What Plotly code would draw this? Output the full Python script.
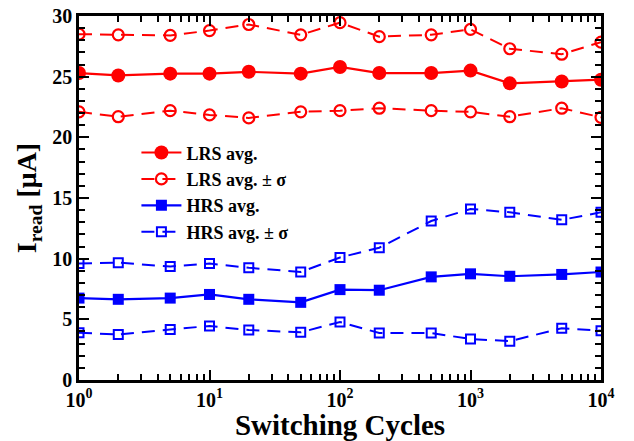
import plotly.graph_objects as go

cycles = [1, 2, 5, 10, 20, 50, 100, 200, 500, 1000, 2000, 5000, 10000]
lrs_avg = [25.3, 25.1, 25.25, 25.25, 25.4, 25.25, 25.8, 25.3, 25.3, 25.5, 24.45, 24.6, 24.75]
lrs_hi = [28.5, 28.45, 28.4, 28.8, 29.3, 28.45, 29.45, 28.3, 28.45, 28.9, 27.3, 26.85, 27.85]
lrs_lo = [22.1, 21.7, 22.2, 21.85, 21.6, 22.1, 22.2, 22.4, 22.2, 22.1, 21.7, 22.4, 21.65]
hrs_avg = [6.75, 6.65, 6.75, 7.05, 6.65, 6.4, 7.45, 7.4, 8.5, 8.75, 8.55, 8.7, 8.9]
hrs_hi = [9.6, 9.67, 9.35, 9.6, 9.25, 8.9, 10.1, 10.9, 13.1, 14.1, 13.82, 13.2, 13.82]
hrs_lo = [3.9, 3.75, 4.17, 4.45, 4.12, 3.93, 4.78, 3.87, 3.87, 3.38, 3.2, 4.26, 4.06]

x_tickvals = [1, 10, 100, 1000, 10000]
x_ticktext = ["10<sup>0</sup>", "10<sup>1</sup>", "10<sup>2</sup>", "10<sup>3</sup>", "10<sup>4</sup>"]
x_minor = [m * d for d in [1, 10, 100, 1000] for m in range(2, 10)]

RED = "#ff0000"
BLUE = "#0000ff"
DASH = "13px,8px"

fig = go.Figure()
fig.add_trace(go.Scatter(x=cycles, y=lrs_avg, mode="lines+markers", name="LRS avg.",
                         line=dict(color=RED, width=2.2),
                         marker=dict(symbol="circle", size=14, color=RED)))
fig.add_trace(go.Scatter(x=cycles, y=lrs_hi, mode="lines+markers", name="LRS avg. ± σ",
                         legendgroup="lrs_s",
                         line=dict(color=RED, width=2, dash=DASH),
                         marker=dict(symbol="circle-open", size=11, color=RED, line=dict(width=2.2))))
fig.add_trace(go.Scatter(x=cycles, y=lrs_lo, mode="lines+markers", name="LRS avg. ± σ",
                         legendgroup="lrs_s", showlegend=False,
                         line=dict(color=RED, width=2, dash=DASH),
                         marker=dict(symbol="circle-open", size=11, color=RED, line=dict(width=2.2))))
fig.add_trace(go.Scatter(x=cycles, y=hrs_avg, mode="lines+markers", name="HRS avg.",
                         line=dict(color=BLUE, width=2.2),
                         marker=dict(symbol="square", size=11, color=BLUE)))
fig.add_trace(go.Scatter(x=cycles, y=hrs_hi, mode="lines+markers", name="HRS avg. ± σ",
                         legendgroup="hrs_s",
                         line=dict(color=BLUE, width=2, dash=DASH),
                         marker=dict(symbol="square-open", size=9, color=BLUE, line=dict(width=2))))
fig.add_trace(go.Scatter(x=cycles, y=hrs_lo, mode="lines+markers", name="HRS avg. ± σ",
                         legendgroup="hrs_s", showlegend=False,
                         line=dict(color=BLUE, width=2, dash=DASH),
                         marker=dict(symbol="square-open", size=9, color=BLUE, line=dict(width=2))))

font_family = "Liberation Serif, Times New Roman, serif"

fig.update_layout(
    width=634, height=441,
    margin=dict(l=79, r=33, t=16, b=61),
    paper_bgcolor="white", plot_bgcolor="white",
    font=dict(family=font_family, color="black"),
    showlegend=True,
    legend=dict(x=0.11, y=0.675, xanchor="left", yanchor="top",
                bgcolor="rgba(0,0,0,0)", borderwidth=0,
                font=dict(family=font_family, size=18, color="black", weight="bold"),
                itemwidth=40, tracegroupgap=0),
)
fig.update_xaxes(
    type="log", range=[0, 4], automargin=False,
    tickmode="array", tickvals=x_tickvals, ticktext=x_ticktext,
    ticks="inside", ticklen=10, tickwidth=2, tickcolor="black",
    minor=dict(tickmode="array", tickvals=x_minor, ticks="inside", ticklen=6,
               tickwidth=1.5, tickcolor="black", showgrid=False),
    showline=True, linewidth=2.5, linecolor="black", mirror="ticks",
    showgrid=False, zeroline=False,
    tickfont=dict(family=font_family, size=20, color="black", weight="bold"),
    title=dict(text="Switching Cycles", standoff=0,
               font=dict(family=font_family, size=29, color="black", weight="bold")),
)
fig.update_yaxes(
    range=[0, 30], tickmode="linear", tick0=0, dtick=5, automargin=False,
    ticks="inside", ticklen=10, tickwidth=2, tickcolor="black",
    minor=dict(dtick=1, ticks="inside", ticklen=6, tickwidth=1.5,
               tickcolor="black", showgrid=False),
    showline=True, linewidth=2.5, linecolor="black", mirror="ticks",
    showgrid=False, zeroline=False,
    tickfont=dict(family=font_family, size=20, color="black", weight="bold"),
    title=dict(text="I<sub>read</sub> [μA]", standoff=8,
               font=dict(family=font_family, size=28, color="black", weight="bold")),
)

fig.write_html("out.html")
